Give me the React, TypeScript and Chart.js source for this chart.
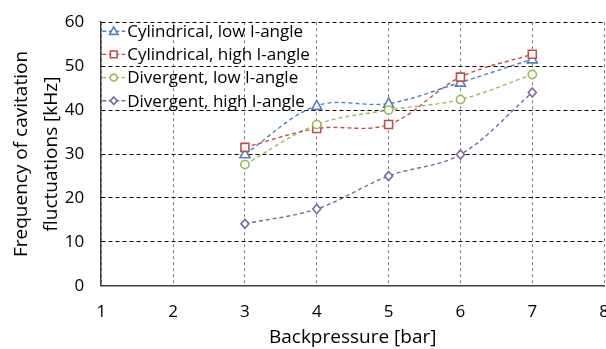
import { useEffect, useRef } from 'react';
import { Chart, registerables } from 'chart.js';

Chart.register(...registerables);

const pressures = [3, 4, 5, 6, 7];
const cylLow = [30, 41, 41.5, 46.3, 51.6];
const cylHigh = [31.5, 35.8, 36.7, 47.5, 52.7];
const divLow = [27.6, 36.7, 40, 42.4, 48.1];
const divHigh = [14.1, 17.5, 25, 29.9, 44];
const seriesNames = [
  'Cylindrical, low I-angle',
  'Cylindrical, high I-angle',
  'Divergent, low I-angle',
  'Divergent, high I-angle',
];
const seriesColors = ['#4F81BD', '#C0504D', '#9BBB59', '#8064A2'];
const seriesMarkers = ['triangle', 'rect', 'circle', 'rectRot'];
const xTitle = 'Backpressure [bar]';
const yTitle = ['Frequency of cavitation', 'fluctuations [kHz]'];
const xMin = 1, xMax = 8, xStep = 1;
const yMin = 0, yMax = 60, yStep = 10;

const FONT = "'Open Sans'";

function drawMarker(ctx: CanvasRenderingContext2D, style: string, x: number, y: number, r: number, color: string) {
  ctx.save();
  ctx.setLineDash([]);
  ctx.strokeStyle = color;
  ctx.fillStyle = '#ffffff';
  ctx.lineWidth = 1.6;
  ctx.beginPath();
  if (style === 'triangle') {
    ctx.moveTo(x, y - r * 1.05);
    ctx.lineTo(x + r, y + r * 0.75);
    ctx.lineTo(x - r, y + r * 0.75);
    ctx.closePath();
  } else if (style === 'rect') {
    ctx.rect(x - r * 0.8, y - r * 0.8, r * 1.6, r * 1.6);
  } else if (style === 'circle') {
    ctx.arc(x, y, r * 0.82, 0, Math.PI * 2);
  } else {
    ctx.moveTo(x, y - r * 0.9);
    ctx.lineTo(x + r * 0.8, y);
    ctx.lineTo(x, y + r * 0.9);
    ctx.lineTo(x - r * 0.8, y);
    ctx.closePath();
  }
  ctx.fill();
  ctx.stroke();
  ctx.restore();
}

const legendPlugin = {
  id: 'insideLegend',
  afterDatasetsDraw(chart: any) {
    const ctx: CanvasRenderingContext2D = chart.ctx;
    const area = chart.chartArea;
    const x0 = area.left + 1;
    const top = area.top + 9;
    const rowH = 23.2;
    ctx.save();
    chart.data.datasets.forEach((ds: any, i: number) => {
      const y = top + i * rowH;
      ctx.strokeStyle = ds.borderColor;
      ctx.lineWidth = 1.4;
      ctx.setLineDash([4, 2.5]);
      ctx.beginPath();
      ctx.moveTo(x0, y);
      ctx.lineTo(x0 + 23, y);
      ctx.stroke();
      drawMarker(ctx, ds.pointStyle, x0 + 11.5, y, 4.2, ds.borderColor);
      ctx.setLineDash([]);
      ctx.fillStyle = '#000';
      ctx.font = `17px ${FONT}`;
      ctx.textBaseline = 'middle';
      ctx.textAlign = 'left';
      ctx.fillText(ds.label, x0 + 25, y + 1);
    });
    ctx.restore();
  },
};

const markerPlugin = {
  id: 'hollowMarkers',
  afterDatasetsDraw(chart: any) {
    const ctx: CanvasRenderingContext2D = chart.ctx;
    chart.data.datasets.forEach((ds: any, i: number) => {
      const meta = chart.getDatasetMeta(i);
      meta.data.forEach((pt: any) => {
        drawMarker(ctx, ds.pointStyle, pt.x, pt.y, 5, ds.borderColor);
      });
    });
  },
};

export default function App() {
  const ref = useRef<HTMLCanvasElement | null>(null);
  useEffect(() => {
    if (!ref.current) return;
    const all = [cylLow, cylHigh, divLow, divHigh];
    const chart = new Chart(ref.current, {
      type: 'line',
      data: {
        datasets: all.map((vals, i) => ({
          label: seriesNames[i],
          data: pressures.map((p, j) => ({ x: p, y: vals[j] })),
          borderColor: seriesColors[i],
          backgroundColor: '#ffffff',
          borderWidth: 1.4,
          borderDash: [4, 3],
          pointStyle: seriesMarkers[i] as any,
          pointRadius: 0,
          tension: 0.35,
          fill: false,
        })),
      },
      options: {
        animation: false,
        responsive: true,
        maintainAspectRatio: false,
        layout: { padding: { left: 6, right: 0, top: 0, bottom: 0 } },
        plugins: {
          legend: { display: false },
          tooltip: { enabled: false },
        },
        scales: {
          x: {
            type: 'linear',
            min: xMin,
            max: xMax,
            ticks: { stepSize: xStep, color: '#000', font: { family: FONT, size: 17 }, padding: 16 },
            grid: { color: '#808080', tickLength: 0, lineWidth: 1 },
            border: { display: true, color: '#404040', width: 1.5, dash: [3, 3] },
            title: { display: true, text: xTitle, color: '#000', font: { family: FONT, size: 19 }, padding: { top: -12, bottom: 0 } },
          },
          y: {
            type: 'linear',
            min: yMin,
            max: yMax,
            ticks: { stepSize: yStep, color: '#000', font: { family: FONT, size: 17 }, padding: 17 },
            grid: { color: '#000000', tickLength: 0, lineWidth: 1 },
            border: { display: true, color: '#404040', width: 1.5, dash: [4, 3] },
            title: { display: true, text: yTitle, color: '#000', font: { family: FONT, size: 19, lineHeight: 1.6 }, padding: { top: 0, bottom: -19 } },
          },
        },
      },
      plugins: [markerPlugin, legendPlugin],
    });
    return () => chart.destroy();
  }, []);

  return (
    <div style={{ position: 'fixed', left: 0, top: 0, width: 606, height: 349, overflow: 'hidden', background: '#fff' }}>
      <div style={{ position: 'absolute', left: 0, top: -5, width: 625, height: 354 }}>
        <canvas ref={ref} />
      </div>
    </div>
  );
}
